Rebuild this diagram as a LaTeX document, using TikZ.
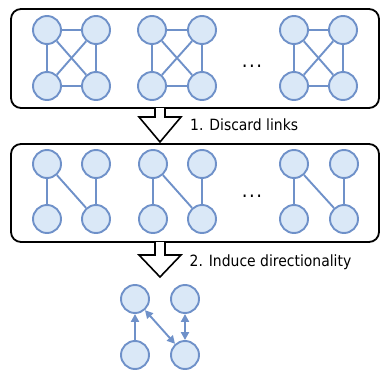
\documentclass[tikz,border=0pt]{standalone}
\usepackage{fontspec}
\setmainfont{DejaVu Sans Condensed}
\usetikzlibrary{arrows.meta}
\definecolor{nodefill}{HTML}{DAE8F7}
\definecolor{nodeline}{HTML}{6F91C9}

\begin{document}
\begin{tikzpicture}[x=1pt, y=-1pt,
	vertex/.style={circle, draw=nodeline, fill=nodefill, line width=1.9pt, inner sep=0, minimum size=28pt},
	link/.style={draw=nodeline, line width=1.9pt},
	dlink/.style={link, -{Triangle[length=8pt, width=8pt]}},
	bilink/.style={link, {Triangle[length=8pt, width=8pt]}-{Triangle[length=8pt, width=8pt]}},
	frame/.style={draw, line width=1.8pt, rounded corners=10pt},
	bigarrow/.style={draw, line width=1.6pt, fill=white, line join=miter},
	steplabel/.style={anchor=base west, inner sep=0, font=\fontsize{15.5}{18}\selectfont},
	gap/.style={anchor=base, inner sep=0, font=\fontsize{20}{22}\selectfont}]
	\useasboundingbox (0, 0) rectangle (381, 372);
	% Frames:
	\draw[frame] (11, 9) rectangle (379, 108);
	\draw[frame] (11, 144) rectangle (379, 242);
	% Block arrows and labels:
	\draw[bigarrow] (155, 108) -- (155, 117) -- (139, 117) -- (160, 142) -- (181, 117) -- (165, 117) -- (165, 108);
	\node[steplabel](lab1) at (190, 130.7){1. Discard links};
	\draw[bigarrow] (155, 242) -- (155, 255) -- (139, 255) -- (160, 277) -- (181, 255) -- (165, 255) -- (165, 242);
	\node[steplabel](lab2) at (189.5, 266.7){2. Induce directionality};
	% Full graphs:
	\node[vertex](a1tl) at (47, 30){};
	\node[vertex](a1tr) at (96, 30){};
	\node[vertex](a1bl) at (47, 86){};
	\node[vertex](a1br) at (96, 86){};
	\node[vertex](a2tl) at (152, 30){};
	\node[vertex](a2tr) at (202, 30){};
	\node[vertex](a2bl) at (152, 86){};
	\node[vertex](a2br) at (202, 86){};
	\node[vertex](a3tl) at (294, 30){};
	\node[vertex](a3tr) at (343, 30){};
	\node[vertex](a3bl) at (294, 86){};
	\node[vertex](a3br) at (343, 86){};
	\draw[link] (a1tl) -- (a1tr) -- (a1br) -- (a1bl) -- (a1tl) -- (a1br) (a1tr) -- (a1bl);
	\draw[link] (a2tl) -- (a2tr) -- (a2br) -- (a2bl) -- (a2tl) -- (a2br) (a2tr) -- (a2bl);
	\draw[link] (a3tl) -- (a3tr) -- (a3br) -- (a3bl) -- (a3tl) -- (a3br) (a3tr) -- (a3bl);
	\node[gap](dots1) at (252, 67.5){.\hspace{1.5pt}.\hspace{1.5pt}.};
	% Reduced graphs:
	\node[vertex](b1tl) at (47, 164){};
	\node[vertex](b1tr) at (96, 164){};
	\node[vertex](b1bl) at (47, 219){};
	\node[vertex](b1br) at (96, 219){};
	\node[vertex](b2tl) at (153, 164){};
	\node[vertex](b2tr) at (202, 164){};
	\node[vertex](b2bl) at (153, 219){};
	\node[vertex](b2br) at (202, 219){};
	\node[vertex](b3tl) at (294, 164){};
	\node[vertex](b3tr) at (344, 164){};
	\node[vertex](b3bl) at (294, 219){};
	\node[vertex](b3br) at (344, 219){};
	\draw[link] (b1bl) -- (b1tl) -- (b1br) -- (b1tr);
	\draw[link] (b2bl) -- (b2tl) -- (b2br) -- (b2tr);
	\draw[link] (b3bl) -- (b3tl) -- (b3br) -- (b3tr);
	\node[gap](dots2) at (252, 197.5){.\hspace{1.5pt}.\hspace{1.5pt}.};
	% Directed graph:
	\node[vertex](ctl) at (135, 299){};
	\node[vertex](ctr) at (185, 299){};
	\node[vertex](cbl) at (135, 355){};
	\node[vertex](cbr) at (185, 355){};
	\draw[dlink] (cbl) -- (ctl);
	\draw[bilink] (ctl) -- (cbr);
	\draw[bilink] (ctr) -- (cbr);
\end{tikzpicture}
\end{document}
